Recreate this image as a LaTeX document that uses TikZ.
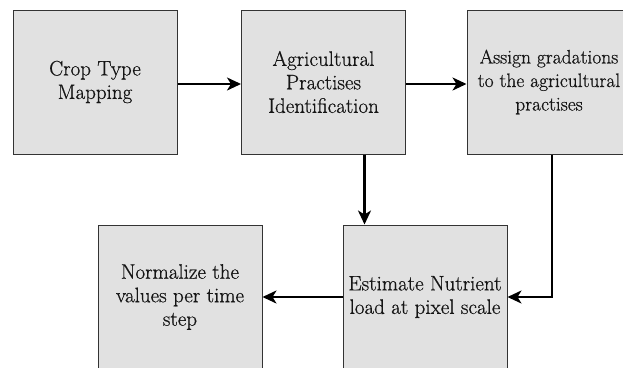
\documentclass[tikz,border=0pt]{standalone}
\usepackage{fontspec}
\newfontfamily\boxfont{Latin Modern Roman}[FakeBold=0.6]
\usetikzlibrary{arrows.meta}
\definecolor{boxfill}{HTML}{E1E1E1}
\definecolor{boxline}{HTML}{333333}
\definecolor{textcol}{HTML}{151515}
\tikzset{
  stepbox/.style={draw=boxline, line width=1pt, fill=boxfill, text=textcol,
    minimum width=164pt, minimum height=144pt, inner sep=1pt, align=center,
    font=\boxfont\fontsize{21pt}{23.5pt}\selectfont},
  smalltext/.style={font=\boxfont\fontsize{19.5pt}{23.5pt}\selectfont},
  flow/.style={line width=2.2pt, -{Stealth[length=14pt,width=13pt,inset=4pt]}}
}
\begin{document}
\begin{tikzpicture}[x=1pt,y=-1pt]
  \clip (0,0) rectangle (623,367);
  \fill[white] (0,0) rectangle (623,367);
  \node[stepbox] (crop)  at (95,82)    {Crop Type\\Mapping};
  \node[stepbox] (ident) at (323.5,82) {Agricultural\\Practises\\Identification};
  \node[stepbox, smalltext] (grad) at (549,82) {Assign gradations\\to the agricultural\\practises};
  \node[stepbox] (norm)  at (180,297)  {Normalize the\\values per time\\step};
  \node[stepbox] (est)   at (425,297)  {Estimate Nutrient\\load at pixel scale};
  \draw[flow] ([yshift=-2pt]crop.east) -- ([yshift=-2pt]ident.west);
  \draw[flow] ([yshift=-2pt]ident.east) -- ([yshift=-2pt]grad.west);
  \draw[flow] ([xshift=41pt]ident.south) -- ([xshift=41pt]ident.south |- est.north);
  \draw[flow] ([xshift=3pt]grad.south) |- (est.east);
  \draw[flow] (est.west) -- (norm.east);
\end{tikzpicture}
\end{document}
